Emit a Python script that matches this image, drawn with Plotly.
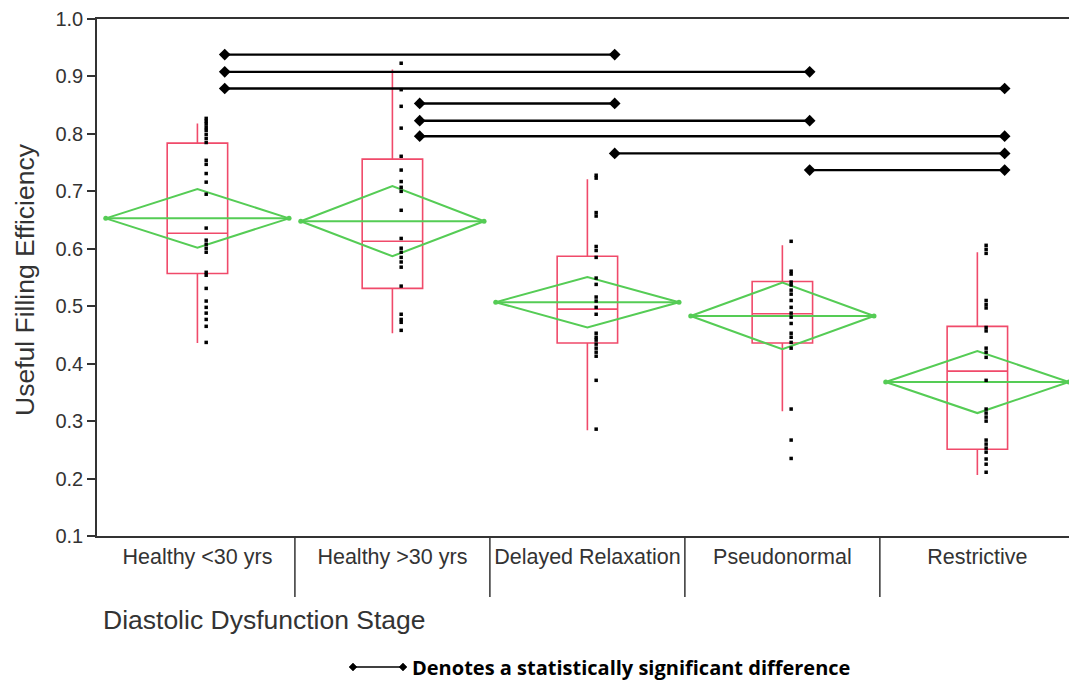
import plotly.graph_objects as go

# Diastolic dysfunction groups on the x axis
stages = ["Healthy <30 yrs", "Healthy >30 yrs", "Delayed Relaxation", "Pseudonormal", "Restrictive"]

# Useful filling efficiency, individual subjects per group
ufe_healthy_young = [0.827, 0.822, 0.817, 0.811, 0.806, 0.799, 0.792, 0.785, 0.754, 0.747,
                     0.731, 0.716, 0.695, 0.636, 0.615, 0.608, 0.601, 0.594, 0.559, 0.554,
                     0.531, 0.509, 0.498, 0.488, 0.477, 0.465, 0.437]
ufe_healthy_older = [0.923, 0.877, 0.848, 0.810, 0.761, 0.737, 0.717, 0.707, 0.700, 0.667,
                     0.618, 0.601, 0.594, 0.585, 0.577, 0.568, 0.535, 0.486, 0.477, 0.472,
                     0.458]
ufe_delayed = [0.728, 0.723, 0.663, 0.657, 0.604, 0.597, 0.585, 0.549, 0.538, 0.516,
               0.509, 0.498, 0.486, 0.453, 0.446, 0.441, 0.434, 0.427, 0.420, 0.413,
               0.371, 0.286]
ufe_pseudonormal = [0.613, 0.561, 0.556, 0.542, 0.537, 0.528, 0.521, 0.510, 0.498, 0.488,
                    0.481, 0.470, 0.453, 0.446, 0.437, 0.427, 0.321, 0.267, 0.235]
ufe_restrictive = [0.606, 0.599, 0.592, 0.510, 0.503, 0.497, 0.463, 0.457, 0.427, 0.420,
                   0.411, 0.371, 0.321, 0.314, 0.307, 0.300, 0.267, 0.260, 0.253, 0.246,
                   0.234, 0.225, 0.211]
groups = [ufe_healthy_young, ufe_healthy_older, ufe_delayed, ufe_pseudonormal, ufe_restrictive]

# Box-plot summaries
q1 = [0.557, 0.531, 0.436, 0.436, 0.251]
median = [0.627, 0.613, 0.495, 0.487, 0.387]
q3 = [0.784, 0.756, 0.587, 0.543, 0.465]
lower_whisker = [0.436, 0.453, 0.284, 0.317, 0.206]
upper_whisker = [0.818, 0.912, 0.721, 0.606, 0.594]

# Group means and half-height of the mean confidence diamonds
group_mean = [0.653, 0.648, 0.507, 0.483, 0.368]
mean_ci_half = [0.051, 0.061, 0.044, 0.058, 0.054]

# Pairwise significant differences and the height of each bracket
sig_pairs = [(0, 2), (0, 3), (0, 4), (1, 2), (1, 3), (1, 4), (2, 4), (3, 4)]
sig_levels = [0.938, 0.908, 0.879, 0.853, 0.823, 0.796, 0.766, 0.737]

yticks = [0.1, 0.2, 0.3, 0.4, 0.5, 0.6, 0.7, 0.8, 0.9, 1.0]

RED = "#f04a6a"
GREEN = "#55cc55"
AXIS = "#333333"
FONT = "Liberation Sans, Arial, sans-serif"

W, H = 1069, 684
ML, MR, MT, MB = 97, 0, 19, 148
PW, PH = W - ML - MR, H - MT - MB


def px_x(p):
    return (p - ML) / PW


def px_y(p):
    return (H - MB - p) / PH


fig = go.Figure()

# Quantile boxes
fig.add_trace(go.Box(
    x=list(range(len(stages))), q1=q1, median=median, q3=q3,
    lowerfence=lower_whisker, upperfence=upper_whisker,
    width=0.31, whiskerwidth=0, boxpoints=False,
    line=dict(color=RED, width=1.6), fillcolor="rgba(0,0,0,0)",
    showlegend=False, hoverinfo="skip",
))

# Mean diamonds
for i, (m, h) in enumerate(zip(group_mean, mean_ci_half)):
    half = 0.47
    fig.add_trace(go.Scatter(
        x=[i - half, i, i + half, i, i - half, None, i - half, i + half],
        y=[m, m + h, m, m - h, m, None, m, m],
        mode="lines", line=dict(color=GREEN, width=2),
        showlegend=False, hoverinfo="skip",
    ))
    fig.add_trace(go.Scatter(
        x=[i - half, i + half], y=[m, m], mode="markers",
        marker=dict(color=GREEN, size=5, symbol="circle"),
        showlegend=False, hoverinfo="skip",
    ))

# Individual observations
for i, vals in enumerate(groups):
    fig.add_trace(go.Scatter(
        x=[i + 0.045] * len(vals), y=vals, mode="markers",
        marker=dict(color="black", size=3.5, symbol="square", line=dict(width=0)),
        showlegend=False, hoverinfo="skip",
    ))

# Significance brackets
for (a, b), lvl in zip(sig_pairs, sig_levels):
    fig.add_trace(go.Scatter(
        x=[a + 0.14, b + 0.14], y=[lvl, lvl], mode="lines+markers",
        line=dict(color="black", width=2.4),
        marker=dict(color="black", size=9, symbol="diamond"),
        showlegend=False, hoverinfo="skip", cliponaxis=False,
    ))

shapes = []
# Category separators below the axis
for k in range(1, len(stages)):
    shapes.append(dict(type="line", xref="x", yref="paper", x0=k - 0.5, x1=k - 0.5,
                       y0=0, y1=px_y(597), line=dict(color=AXIS, width=1.5)))

# Key for the significance brackets
key_y = px_y(667)
shapes.append(dict(type="line", xref="paper", yref="paper", x0=px_x(353), x1=px_x(403),
                   y0=key_y, y1=key_y, line=dict(color="black", width=1.5)))
for xp in (353, 403):
    shapes.append(dict(type="path", xref="paper", yref="paper",
                       xsizemode="pixel", ysizemode="pixel",
                       xanchor=px_x(xp), yanchor=key_y,
                       path="M -4 0 L 0 4 L 4 0 L 0 -4 Z",
                       fillcolor="black", line=dict(color="black", width=0.5)))

annotations = [
    dict(text="Useful Filling Efficiency", textangle=-90, xref="paper", yref="paper",
         x=px_x(25), y=px_y(280), xanchor="center", yanchor="middle", showarrow=False,
         font=dict(family=FONT, size=26.5, color=AXIS)),
    dict(text="Diastolic Dysfunction Stage", xref="paper", yref="paper",
         x=px_x(101), y=px_y(620), xanchor="left", yanchor="middle", showarrow=False,
         font=dict(family=FONT, size=26.5, color=AXIS)),
    dict(text="<b>Denotes a statistically significant difference</b>", xref="paper", yref="paper",
         x=px_x(410), y=key_y, xanchor="left", yanchor="middle", showarrow=False,
         font=dict(family="Open Sans, Lato, sans-serif", size=20, color="black")),
]

fig.update_layout(
    width=W, height=H,
    margin=dict(l=ML, r=MR, t=MT, b=MB, pad=0),
    paper_bgcolor="white", plot_bgcolor="white",
    shapes=shapes, annotations=annotations,
    font=dict(family=FONT, color=AXIS),
    xaxis=dict(
        range=[-0.515, 4.47], tickmode="array", tickvals=list(range(len(stages))),
        ticktext=stages, ticks="", ticklen=0,
        tickfont=dict(family=FONT, size=21.5, color=AXIS),
        showline=True, linecolor=AXIS, linewidth=1.5, mirror=True,
        showgrid=False, zeroline=False, fixedrange=True,
    ),
    yaxis=dict(
        range=[0.1, 1.0], tickmode="array", tickvals=yticks, tickformat=".1f",
        ticks="outside", ticklen=8, tickwidth=1.5, tickcolor=AXIS,
        tickfont=dict(family=FONT, size=20, color=AXIS),
        showline=True, linecolor=AXIS, linewidth=1.5,
        showgrid=False, zeroline=False, fixedrange=True,
    ),
)

fig.write_html("out.html")
